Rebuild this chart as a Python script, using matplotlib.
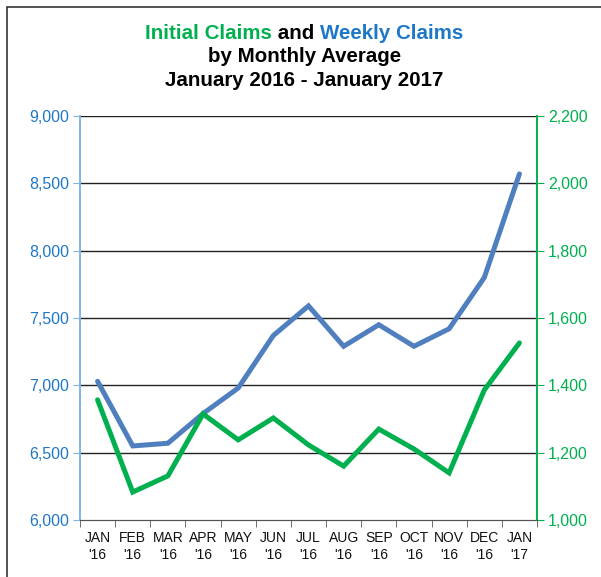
import matplotlib
matplotlib.use("Agg")
import matplotlib.pyplot as plt
from matplotlib.patches import Rectangle
import numpy as np

plt.rcParams['font.family'] = ['Liberation Sans', 'DejaVu Sans']

# ── Data ─────────────────────────────────────────────────────────────────────
months = ["JAN\n'16", "FEB\n'16", "MAR\n'16", "APR\n'16", "MAY\n'16", "JUN\n'16",
          "JUL\n'16", "AUG\n'16", "SEP\n'16", "OCT\n'16", "NOV\n'16", "DEC\n'16",
          "JAN\n'17"]
weekly_claims = [7030, 6550, 6570, 6790, 6980, 7370, 7590, 7290, 7450, 7290,
                 7420, 7800, 8570]
initial_claims = [1357, 1083, 1131, 1315, 1238, 1303, 1223, 1160, 1270, 1211,
                  1140, 1386, 1526]
left_ticks = [6000, 6500, 7000, 7500, 8000, 8500, 9000]
right_ticks = [1000, 1200, 1400, 1600, 1800, 2000, 2200]

BLUE_LINE = '#4f7fbe'
BLUE_TXT = '#1f77c8'
GREEN = '#00b04f'
W, H = 601, 577

fig = plt.figure(figsize=(W / 100, H / 100), dpi=100)
ax = fig.add_axes([80 / W, 1 - 520 / H, 457 / W, 404 / H])
ax2 = ax.twinx()

x = np.arange(len(months))

# gridlines
for v in left_ticks[1:]:
    ax.axhline(v, color='#222222', linewidth=1.0, zorder=1)

ax.plot(x, weekly_claims, color=BLUE_LINE, linewidth=3.6,
        solid_capstyle='round', solid_joinstyle='miter', zorder=3)
ax2.plot(x, initial_claims, color=GREEN, linewidth=3.6,
         solid_capstyle='round', solid_joinstyle='miter', zorder=3)

ax.set_xlim(-0.5, len(months) - 0.5)
ax.set_ylim(6000, 9000)
ax2.set_ylim(1000, 2200)

ax.set_xticks(x)
ax.set_xticklabels(months, fontsize=10, color='#111111', linespacing=1.25)
ax.set_xticks(np.arange(-0.5, len(months)), minor=True)
ax.tick_params(axis='x', which='major', length=0, pad=8)
ax.tick_params(axis='x', which='minor', length=5, color='#555555')

ax.set_yticks(left_ticks)
ax.set_yticklabels([f"{v:,}" for v in left_ticks], fontsize=11.5, color=BLUE_TXT)
ax.tick_params(axis='y', length=5, color='#7fb4e6', pad=3)

ax2.set_yticks(right_ticks)
ax2.set_yticklabels([f"{v:,}" for v in right_ticks], fontsize=11.5, color=GREEN)
ax2.tick_params(axis='y', length=5, color=GREEN, pad=3)

for a in (ax, ax2):
    a.spines['top'].set_visible(False)
    a.spines['left'].set_color('#7fb4e6')
    a.spines['right'].set_color(GREEN)
    a.spines['bottom'].set_color('#555555')
    a.spines['left'].set_linewidth(1.2)
    a.spines['right'].set_linewidth(1.2)
    a.set_facecolor('none')

# ── Title (coloured pieces on line 1) ────────────────────────────────────────
title_kw = dict(fontsize=14.8, fontweight='bold', va='baseline')
cx = 304.5
pieces = [("Initial Claims", GREEN), (" and ", 'black'), ("Weekly Claims", BLUE_TXT)]
fig.canvas.draw()
renderer = fig.canvas.get_renderer()
texts = [fig.text(0, 0, s, color=c, ha='left', **title_kw) for s, c in pieces]
widths = [t.get_window_extent(renderer).width for t in texts]
start = cx - sum(widths) / 2
for t, w in zip(texts, widths):
    t.set_position((start / W, 1 - 39 / H))
    start += w
fig.text(cx / W, 1 - 62 / H, "by Monthly Average", ha='center', **title_kw)
fig.text(cx / W, 1 - 86 / H, "January 2016 - January 2017", ha='center', **title_kw)

# frame: only the left and top edges show in the cropped reference
frame = Rectangle((7 / W, -0.5), 1.5, 0.5 + 1 - 7 / H, transform=fig.transFigure,
                  fill=False, edgecolor='#333333', linewidth=1.2)
fig.patches.append(frame)

fig.savefig("out.png", dpi=100)
